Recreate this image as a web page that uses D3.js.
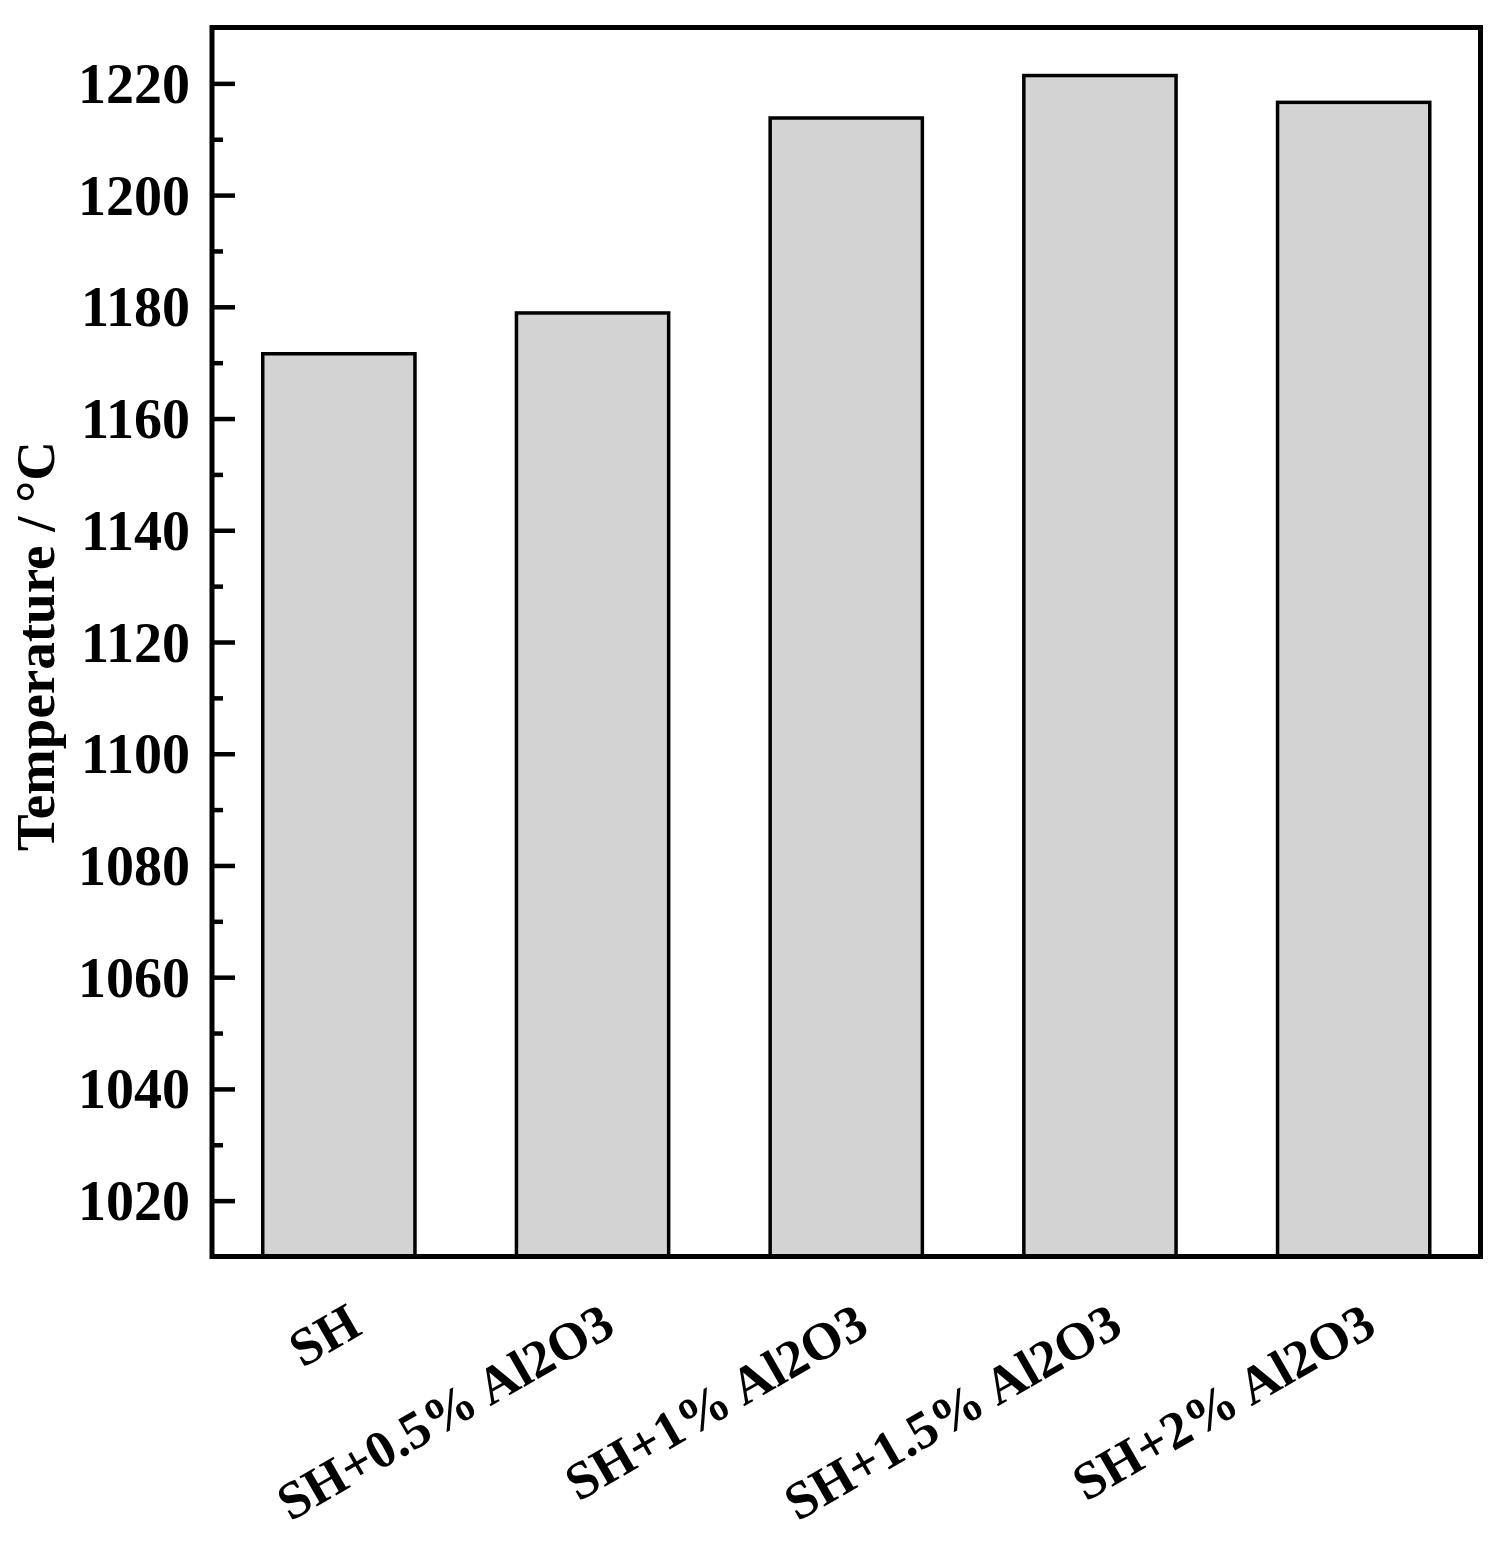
<!DOCTYPE html>
<html>
<head>
<meta charset="utf-8">
<script src="https://cdn.jsdelivr.net/npm/d3@7/dist/d3.min.js"></script>
<style>
  html, body { margin: 0; padding: 0; background: #fff; }
  svg { display: block; }
</style>
</head>
<body>
<svg id="chart" width="1498" height="1545"></svg>
<script>
const categories = ["SH", "SH+0.5% Al2O3", "SH+1% Al2O3", "SH+1.5% Al2O3", "SH+2% Al2O3"];
const values = [1171.6, 1178.9, 1213.8, 1221.4, 1216.6];
const majorTicks = [1020, 1040, 1060, 1080, 1100, 1120, 1140, 1160, 1180, 1200, 1220];
const minorTicks = [1030, 1050, 1070, 1090, 1110, 1130, 1150, 1170, 1190, 1210];
const yDomain = [1010, 1230];
const yTitle = "Temperature / °C";

const FONT = "Liberation Serif";
const svg = d3.select("#chart");
const L = 212, R = 1480.5, T = 27.5, B = 1256.5;

const x = d3.scaleBand().domain(categories).range([L, R]).paddingInner(0.4).paddingOuter(0.2);
const y = d3.scaleLinear().domain(yDomain).range([B, T]);

// bars
svg.append("g").selectAll("rect").data(categories).join("rect")
  .attr("x", d => x(d))
  .attr("y", (d, i) => y(values[i]))
  .attr("width", x.bandwidth())
  .attr("height", (d, i) => y(yDomain[0]) - y(values[i]))
  .attr("fill", "#d3d3d3")
  .attr("stroke", "#000")
  .attr("stroke-width", 3.5);

// major ticks (inward) with labels
const yAxis = d3.axisLeft(y).tickValues(majorTicks).tickSizeInner(-23).tickSizeOuter(0).tickPadding(22).tickFormat(d3.format("d"));
const gy = svg.append("g").attr("transform", `translate(${L},0)`).call(yAxis)
  .attr("font-family", FONT).attr("font-weight", "bold").attr("font-size", 56);
gy.select(".domain").remove();
gy.selectAll(".tick line").attr("stroke", "#000").attr("stroke-width", 4.5);
gy.selectAll(".tick text").attr("fill", "#000").attr("font-family", FONT).attr("font-weight", "bold").attr("font-size", 56).attr("dy", "0.34em");

// minor ticks
const yMinor = d3.axisLeft(y).tickValues(minorTicks).tickSizeInner(-11).tickSizeOuter(0).tickFormat("");
const gm = svg.append("g").attr("transform", `translate(${L},0)`).call(yMinor);
gm.select(".domain").remove();
gm.selectAll(".tick line").attr("stroke", "#000").attr("stroke-width", 4.5);

// frame
svg.append("rect")
  .attr("x", L).attr("y", T).attr("width", R - L).attr("height", B - T)
  .attr("fill", "none").attr("stroke", "#000").attr("stroke-width", 5);

// x labels, rotated
svg.append("g").selectAll("text").data(categories).join("text")
  .attr("transform", d => `translate(${x(d) + x.bandwidth() / 2 + 25},1333) rotate(-30)`)
  .attr("text-anchor", "end")
  .attr("font-family", FONT).attr("font-weight", "bold").attr("font-size", 53)
  .attr("fill", "#000")
  .text(d => d);

// y title
svg.append("text")
  .attr("transform", `translate(54,${(T + B) / 2 + 4}) rotate(-90)`)
  .attr("text-anchor", "middle")
  .attr("font-family", FONT).attr("font-weight", "bold").attr("font-size", 55)
  .attr("fill", "#000")
  .text(yTitle);
</script>
</body>
</html>
